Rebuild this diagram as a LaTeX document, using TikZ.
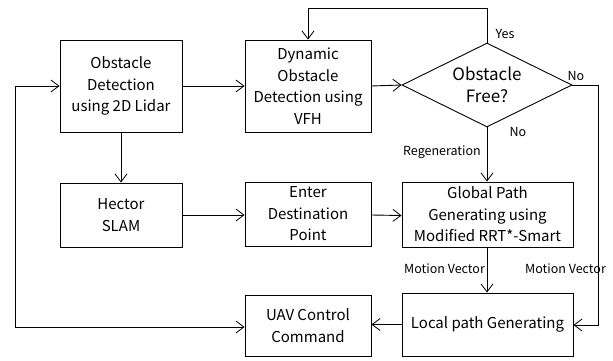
\documentclass[tikz,border=0pt]{standalone}
\usepackage{fontspec}
\setmainfont{Noto Sans CJK KR}
\usetikzlibrary{arrows.meta,shapes.geometric}
\begin{document}
\begin{tikzpicture}[x=1pt,y=-1pt,
  tip/.tip={Straight Barb[length=8pt,width=12pt,line width=0.8pt]},
  blk/.style={draw, line width=0.9pt, inner sep=0pt, align=center,
    font=\fontsize{15}{21.5}\selectfont},
  dec/.style={draw, line width=0.9pt, shape=diamond, inner sep=0pt, aspect=2,
    align=center, font=\fontsize{17}{22}\selectfont},
  lbl/.style={font=\fontsize{12.5}{14}\selectfont, inner sep=0pt},
  flow/.style={draw, line width=0.9pt, -tip},
  both/.style={draw, line width=0.9pt, tip-tip}
]
\useasboundingbox (0,0) rectangle (613,361);

% blocks
\node[blk, minimum width=122pt, minimum height=92pt] (obs) at (121,86) {Obstacle\\Detection\\using 2D Lidar};
\node[blk, minimum width=126pt, minimum height=92pt] (vfh) at (308,86) {Dynamic\\Obstacle\\Detection using\\VFH};
\node[dec, minimum width=170pt, minimum height=84pt] (free) at (487,85) {Obstacle\\Free?};
\node[blk, minimum width=122pt, minimum height=64pt] (slam) at (121,215) {Hector\\SLAM};
\node[blk, minimum width=126pt, minimum height=64pt] (dest) at (308,214) {Enter\\Destination\\Point};
\node[blk, minimum width=171pt, minimum height=65pt] (glob) at (487.5,214.5) {Global Path\\Generating using\\Modified RRT*-Smart};
\node[blk, minimum width=171pt, minimum height=63pt] (loc) at (487.5,324.5) {Local path Generating};
\node[blk, minimum width=126pt, minimum height=61pt] (uav) at (308,325.5) {UAV Control\\Command};

% helper corners
\coordinate (topR) at (487,8);
\coordinate (topL) at (308,8);
\coordinate (noR) at (598,85);
\coordinate (noRb) at (598,325);
\coordinate (fbB) at (15,327);
\coordinate (fbT) at (15,86);

% connectors
\path[flow] (obs.east) -- (vfh.west |- obs.east);
\path[flow] (vfh.east) -- (free.west);
\path[flow] (free.north) -- (topR) -- (topL) -- (vfh.north);
\path[flow] (free.east) -- (noR) -- (noRb) -- (loc.east |- noRb);
\path[flow] (free.south) -- (glob.north -| free.south);
\path[flow] (obs.south) -- (slam.north);
\path[flow] (slam.east) -- (dest.west |- slam.east);
\path[flow] ([yshift=-1pt]dest.east) -- ([yshift=-1pt]glob.west);
\path[flow] (glob.south -| free.south) -- (loc.north -| free.south);
\path[flow] (loc.west) -- (uav.east |- loc.west);
\path[both] (uav.west |- fbB) -- (fbB) -- (fbT) -- (obs.west);

% labels
\node[lbl] (yes) at (505,34) {Yes};
\node[lbl] (no1) at (576,76) {No};
\node[lbl] (no2) at (518,132) {No};
\node[lbl] (regen) at (442,152) {Regeneration};
\node[lbl] (mv1) at (444.5,269) {Motion Vector};
\node[lbl] (mv2) at (565.5,269) {Motion Vector};
\end{tikzpicture}
\end{document}
